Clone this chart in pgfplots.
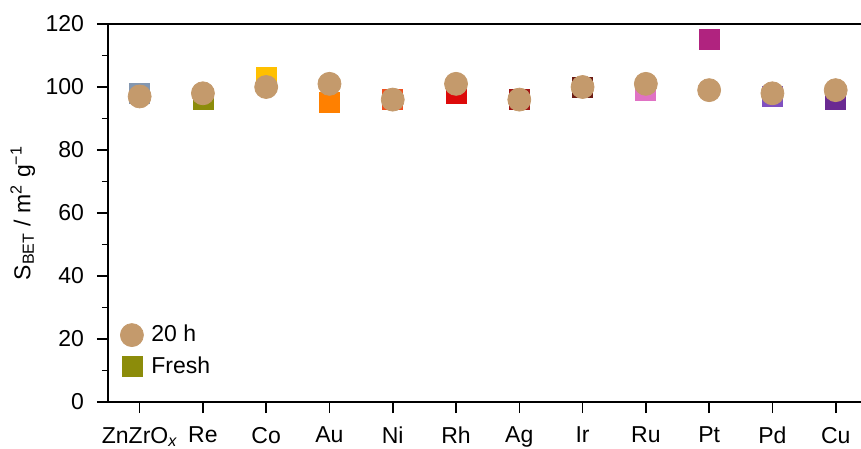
\documentclass[border=0pt]{standalone}
\usepackage{pgfplots}
\pgfplotsset{compat=1.18}
\usepackage{pgfplotstable}
\usepackage{fontspec}
\setmainfont{Liberation Sans}
\definecolor{tan20}{HTML}{C49A6C}
\definecolor{cZn}{HTML}{8497B0}
\definecolor{cRe}{HTML}{8C8C0A}
\definecolor{cCo}{HTML}{FFC000}
\definecolor{cAu}{HTML}{FF8000}
\definecolor{cNi}{HTML}{F0501E}
\definecolor{cRh}{HTML}{DD0A0A}
\definecolor{cAg}{HTML}{A01414}
\definecolor{cIr}{HTML}{6B1A12}
\definecolor{cRu}{HTML}{E072C4}
\definecolor{cPt}{HTML}{B0237F}
\definecolor{cPd}{HTML}{8050C0}
\definecolor{cCu}{HTML}{6A2A92}
\pgfplotstableread{
x fresh cls
0 98 zn
1 96 re
2 103 co
3 95 au
4 96 ni
5 98 rh
6 96 ag
7 100 ir
8 99 ru
9 115 pt
10 97 pd
11 96 cu
}\freshtab
\pgfplotstableread{
x aged
0 97
1 98
2 100
3 101
4 96
5 101
6 96
7 100
8 101
9 99
10 98
11 99
}\agedtab
\begin{document}
\begin{tikzpicture}
\begin{axis}[
  at={(0,0)}, anchor=south west,
  scale only axis, width=376.5pt, height=189pt,
  xmin=-0.5, xmax=11.4, ymin=0, ymax=120,
  axis x line*=bottom, axis y line*=left,
  axis line style={line width=1pt, -},
  every tick/.style={line width=0.8pt, black},
  tick align=outside,
  major tick length=5.5pt, minor tick length=3pt,
  xtick=data,
  xticklabels={ZnZrO\textsubscript{\itshape x},Re,Co,Au,Ni,Rh,Ag,Ir,Ru,Pt,Pd,Cu},
  ytick={0,20,...,120}, minor y tick num=1,
  /pgf/number format/assume math mode=true,
  tick label style={font=\fontsize{11.5}{13}\selectfont},
  xticklabel style={yshift=-3.5pt},
  yticklabel style={xshift=-3pt},
  ylabel={S\textsubscript{BET} / m\textsuperscript{2} g\textsuperscript{−1}},
  ylabel style={font=\fontsize{11.5}{13}\selectfont, at={(axis description cs:-0.139,0.5)}, anchor=north},
  legend style={draw=none, fill=none, at={(0.008,0.045)}, anchor=south west,
    font=\fontsize{11.5}{13}\selectfont, row sep=2pt},
  legend cell align=left,
  clip=false,
  extra description/.code={\draw[line width=1pt] (rel axis cs:0,1) -- (rel axis cs:1,1);},
]
\addlegendimage{only marks, mark=*, mark size=5.75pt, draw=tan20, fill=tan20}
\addlegendentry{\hspace{2pt}20 h}
\addlegendimage{only marks, mark=square*, mark size=5pt, draw=cRe, fill=cRe}
\addlegendentry{\hspace{2pt}Fresh}
\addplot[scatter, only marks, mark=square*, mark size=5pt, forget plot,
  scatter src=explicit symbolic,
  scatter/classes={
    zn={mark=square*, draw=cZn, fill=cZn},
    re={mark=square*, draw=cRe, fill=cRe},
    co={mark=square*, draw=cCo, fill=cCo},
    au={mark=square*, draw=cAu, fill=cAu},
    ni={mark=square*, draw=cNi, fill=cNi},
    rh={mark=square*, draw=cRh, fill=cRh},
    ag={mark=square*, draw=cAg, fill=cAg},
    ir={mark=square*, draw=cIr, fill=cIr},
    ru={mark=square*, draw=cRu, fill=cRu},
    pt={mark=square*, draw=cPt, fill=cPt},
    pd={mark=square*, draw=cPd, fill=cPd},
    cu={mark=square*, draw=cCu, fill=cCu}}]
  table[x=x, y=fresh, meta=cls] {\freshtab};
\addplot[only marks, mark=*, mark size=5.75pt, draw=tan20, fill=tan20, forget plot]
  table[x=x, y=aged] {\agedtab};
\end{axis}
\pgfresetboundingbox
\path (-54pt,-23.5pt) rectangle (376.5pt,201pt);
\end{tikzpicture}
\end{document}
